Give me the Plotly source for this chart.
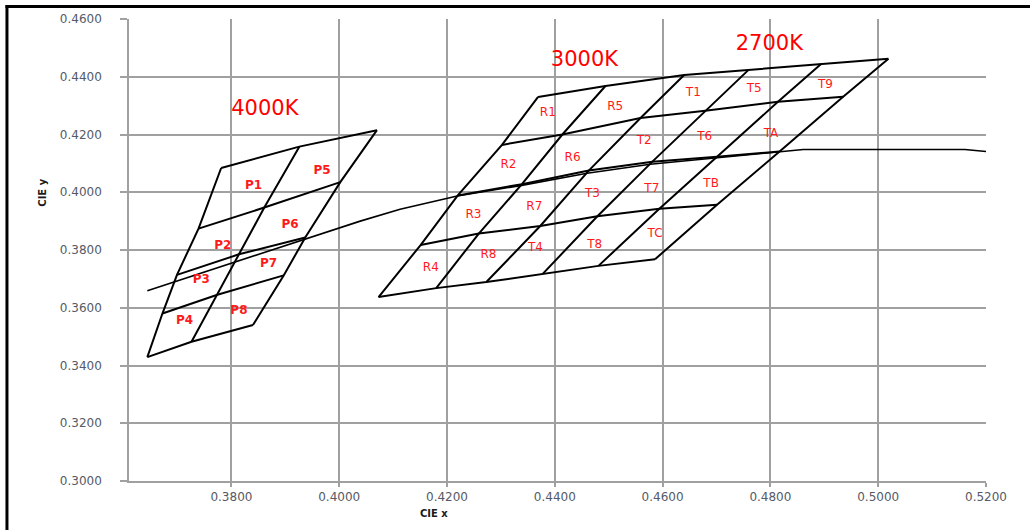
import plotly.graph_objects as go

# ---- axes -------------------------------------------------------------
x_range = [0.361, 0.52]
y_range = [0.30, 0.46]
x_ticks = [0.38, 0.40, 0.42, 0.44, 0.46, 0.48, 0.50, 0.52]
y_ticks = [0.30, 0.32, 0.34, 0.36, 0.38, 0.40, 0.42, 0.44, 0.46]

# ---- blackbody (Planckian) locus --------------------------------------
locus_x = [0.3644, 0.3798, 0.3937, 0.4039, 0.4113, 0.4219, 0.4336, 0.4460,
           0.4577, 0.4701, 0.4818, 0.4861, 0.5161, 0.5200]
locus_y = [0.3659, 0.3753, 0.3839, 0.3900, 0.3941, 0.3987, 0.4023, 0.4066,
           0.4097, 0.4120, 0.4141, 0.4148, 0.4148, 0.4141]

# ---- 4000K bin grid: rows top->bottom, columns left->right -------------
cool_grid_x = [
    [0.3781, 0.3926, 0.4070],
    [0.3739, 0.3861, 0.4002],
    [0.3699, 0.3814, 0.3937],
    [0.3672, 0.3774, 0.3897],
    [0.3644, 0.3726, 0.3840],
]
cool_grid_y = [
    [0.4084, 0.4158, 0.4215],
    [0.3874, 0.3947, 0.4035],
    [0.3714, 0.3785, 0.3843],
    [0.3580, 0.3645, 0.3712],
    [0.3429, 0.3482, 0.3540],
]
cool_bins = ["P1", "P5", "P2", "P6", "P3", "P7", "P4", "P8"]
cool_bin_x = [0.3841, 0.3968, 0.3784, 0.3909, 0.3744, 0.3869, 0.3713, 0.3814]
cool_bin_y = [0.4022, 0.4072, 0.3814, 0.3888, 0.3697, 0.3752, 0.3553, 0.3588]

# ---- 3000K / 2700K bin grid ------------------------------------------
warm_grid_x = [
    [0.4369, 0.4494, 0.4640, 0.4759, 0.4894, 0.5019],
    [0.4302, 0.4414, 0.4559, 0.4679, 0.4814, 0.4935],
    [0.4220, 0.4339, 0.4463, 0.4581, 0.4701, 0.4817],
    [0.4151, 0.4259, 0.4373, 0.4479, 0.4594, 0.4701],
    [0.4073, 0.4180, 0.4273, 0.4378, 0.4481, 0.4586],
]
warm_grid_y = [
    [0.4330, 0.4368, 0.4406, 0.4423, 0.4444, 0.4462],
    [0.4164, 0.4200, 0.4257, 0.4282, 0.4313, 0.4331],
    [0.3989, 0.4028, 0.4075, 0.4106, 0.4123, 0.4141],
    [0.3817, 0.3857, 0.3883, 0.3917, 0.3943, 0.3957],
    [0.3637, 0.3668, 0.3689, 0.3718, 0.3745, 0.3768],
]
warm_bins = ["R1", "R5", "T1", "T5", "T9",
             "R2", "R6", "T2", "T6", "TA",
             "R3", "R7", "T3", "T7", "TB",
             "R4", "R8", "T4", "T8", "TC"]
warm_bin_x = [0.4387, 0.4512, 0.4657, 0.4770, 0.4902,
              0.4314, 0.4433, 0.4566, 0.4678, 0.4801,
              0.4249, 0.4362, 0.4470, 0.4580, 0.4690,
              0.4170, 0.4277, 0.4364, 0.4474, 0.4586]
warm_bin_y = [0.4273, 0.4294, 0.4345, 0.4357, 0.4370,
              0.4093, 0.4118, 0.4179, 0.4193, 0.4202,
              0.3921, 0.3949, 0.3995, 0.4012, 0.4030,
              0.3739, 0.3783, 0.3806, 0.3817, 0.3854]

# ---- CCT headings ------------------------------------------------------
cct_labels = ["4000K", "3000K", "2700K"]
cct_x = [0.3862, 0.4455, 0.4798]
cct_y = [0.4284, 0.4454, 0.4512]

LINE = dict(color="black", width=2)
fig = go.Figure()


def add_grid(gx, gy):
    n_rows, n_cols = len(gx), len(gx[0])
    for r in range(n_rows):
        fig.add_trace(go.Scatter(x=gx[r], y=gy[r], mode="lines", line=LINE,
                                 hoverinfo="skip", showlegend=False))
    for c in range(n_cols):
        fig.add_trace(go.Scatter(x=[gx[r][c] for r in range(n_rows)],
                                 y=[gy[r][c] for r in range(n_rows)],
                                 mode="lines", line=LINE,
                                 hoverinfo="skip", showlegend=False))


fig.add_trace(go.Scatter(x=locus_x, y=locus_y, mode="lines",
                         line=dict(color="black", width=1.6),
                         hoverinfo="skip", showlegend=False))
add_grid(cool_grid_x, cool_grid_y)
add_grid(warm_grid_x, warm_grid_y)

fig.add_trace(go.Scatter(x=cool_bin_x, y=cool_bin_y, text=cool_bins, mode="text",
                         textfont=dict(family="DejaVu Sans", size=12, color="#ff1a1a",
                                       weight="bold"),
                         hoverinfo="skip", showlegend=False))
fig.add_trace(go.Scatter(x=warm_bin_x, y=warm_bin_y, text=warm_bins, mode="text",
                         textfont=dict(family="DejaVu Sans", size=12, color="#ff1a1a"),
                         hoverinfo="skip", showlegend=False))
fig.add_trace(go.Scatter(x=cct_x, y=cct_y, text=cct_labels, mode="text",
                         textfont=dict(family="DejaVu Sans", size=21, color="#ff0000"),
                         hoverinfo="skip", showlegend=False))

GRID = "#a0a0a0"
TICKFONT = dict(family="DejaVu Sans", size=12, color="#555a66")

fig.update_xaxes(range=x_range, tickvals=x_ticks, tickformat=".4f",
                 showgrid=True, gridcolor=GRID, gridwidth=1.5,
                 showline=True, linecolor=GRID, linewidth=1.5,
                 ticks="outside", ticklen=4, tickcolor=GRID, tickwidth=1.5,
                 tickfont=TICKFONT, zeroline=False)
fig.update_yaxes(range=y_range, tickvals=y_ticks, tickformat=".4f",
                 showgrid=True, gridcolor=GRID, gridwidth=1.5,
                 showline=True, linecolor=GRID, linewidth=1.5,
                 ticks="outside", ticklen=7, tickcolor=GRID, tickwidth=1.5,
                 tickfont=TICKFONT, ticklabelstandoff=16, zeroline=False)

# axis titles
fig.add_annotation(x=0.4175, y=-0.07, xref="x", yref="paper", text="CIE x",
                   showarrow=False, yanchor="middle",
                   font=dict(family="DejaVu Sans", size=10, color="#1a1a1a", weight="bold"))
fig.add_annotation(x=-0.101, y=0.4, xref="paper", yref="y", text="CIE y",
                   showarrow=False, textangle=-90, xanchor="center",
                   font=dict(family="DejaVu Sans", size=10, color="#1a1a1a", weight="bold"))

# outer frame (left and top edges)
fig.add_shape(type="line", xref="paper", yref="paper",
              x0=-0.1424, x1=-0.1424, y0=1.0301, y1=-0.11,
              line=dict(color="black", width=3), layer="above")
fig.add_shape(type="line", xref="paper", yref="paper",
              x0=-0.1441, x1=1.06, y0=1.0269, y1=1.0269,
              line=dict(color="black", width=3), layer="above")

fig.update_layout(width=1030, height=530,
                  margin=dict(l=129, r=44, t=16, b=49),
                  paper_bgcolor="white", plot_bgcolor="white",
                  showlegend=False)

fig.write_html("out.html")
